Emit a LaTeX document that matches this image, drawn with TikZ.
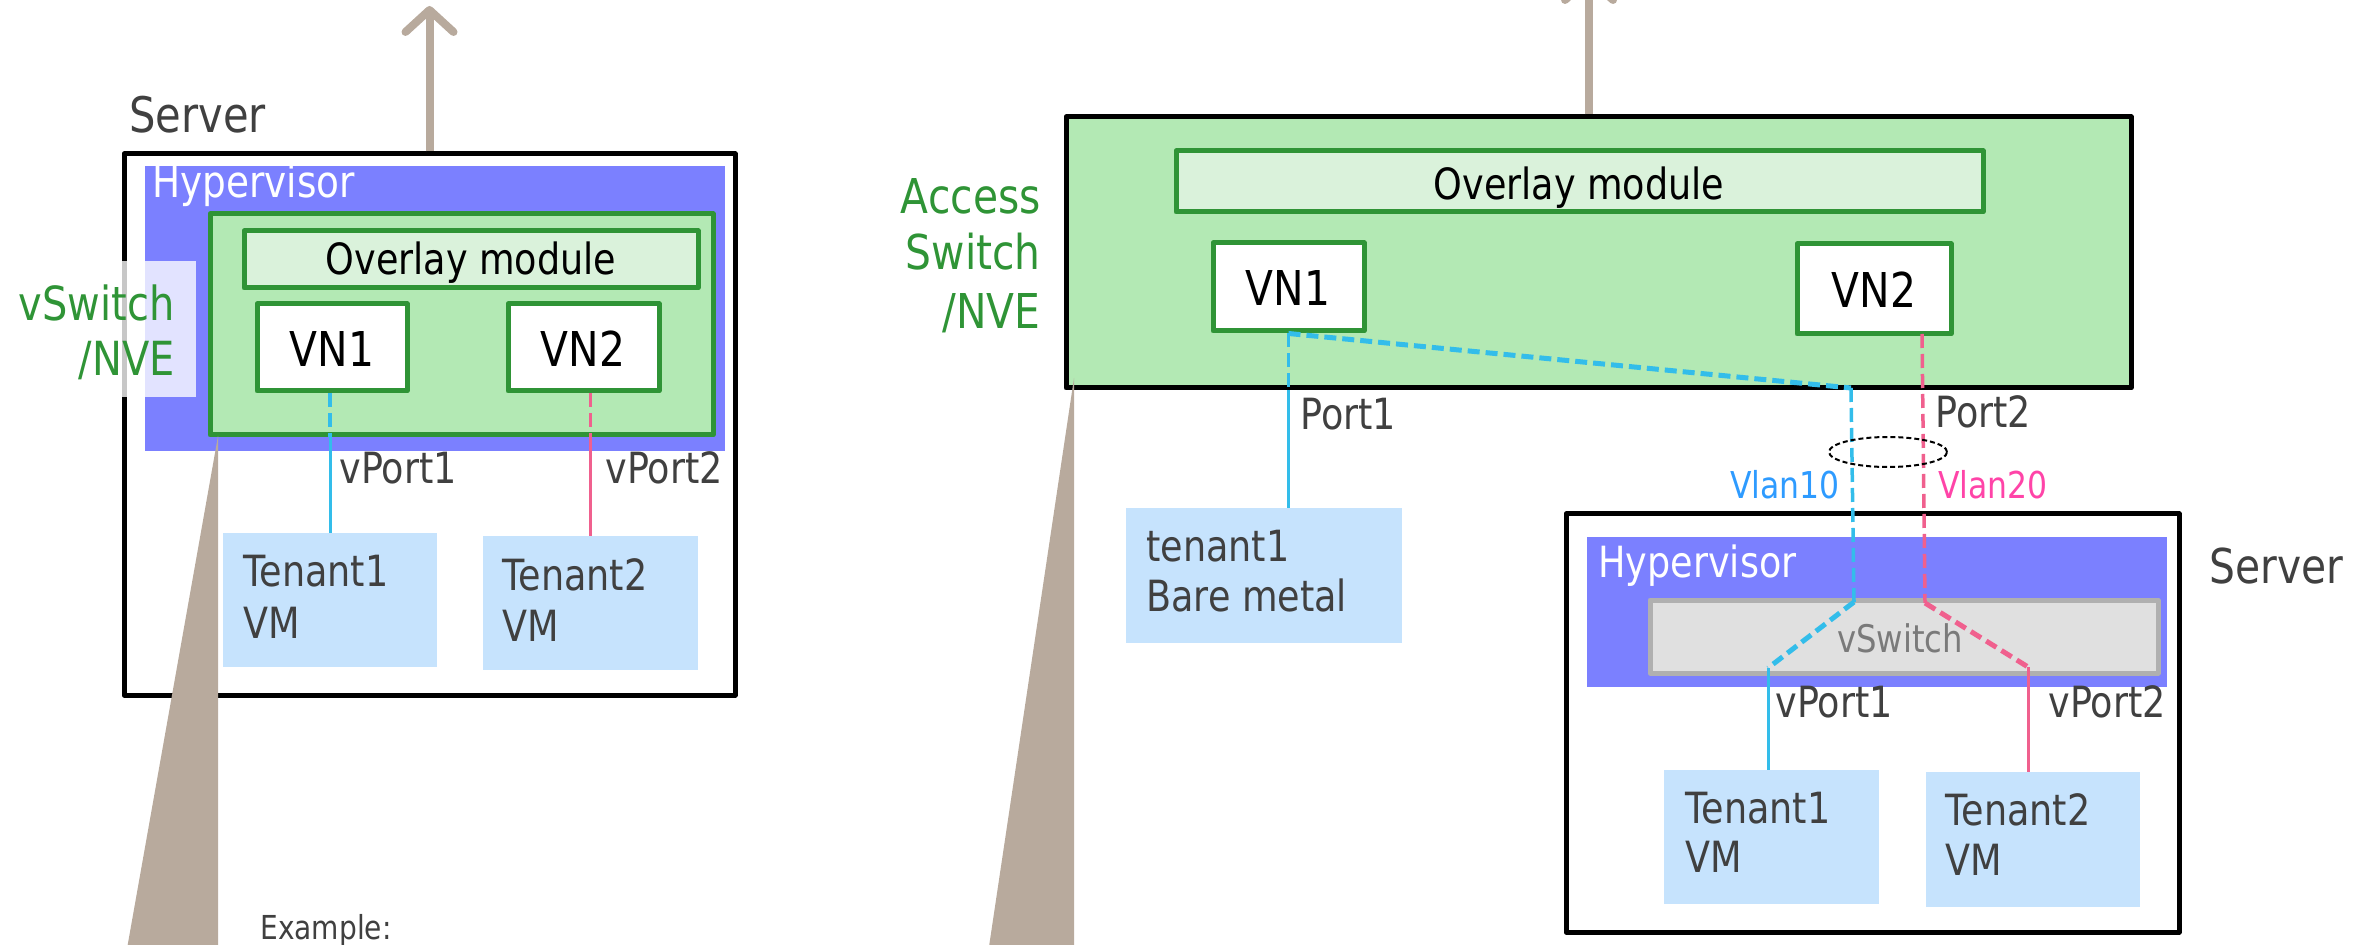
\documentclass[tikz,border=0pt]{standalone}
\usepackage{fontspec}
\setmainfont[FakeStretch=0.85]{DejaVu Sans}
\usetikzlibrary{arrows.meta,fit}
\definecolor{hyper}{HTML}{7B80FF}
\definecolor{nvefill}{HTML}{B3E9B4}
\definecolor{gborder}{HTML}{2F9436}
\definecolor{ovfill}{HTML}{DAF2DB}
\definecolor{tenant}{HTML}{C6E3FD}
\definecolor{calloutc}{HTML}{B8AA9D}
\definecolor{lblue}{HTML}{33BDEA}
\definecolor{lpink}{HTML}{F0608E}
\definecolor{vblue}{HTML}{2E9BFF}
\definecolor{vpink}{HTML}{FF44A8}
\definecolor{tgray}{HTML}{404040}
\definecolor{gtext}{HTML}{2F9436}
\definecolor{vsfill}{HTML}{E0E0E0}
\definecolor{vsdraw}{HTML}{B0B0B0}
\definecolor{vstext}{HTML}{7A7A7A}
\newcommand\myfs[1]{\fontsize{#1}{#1}\selectfont}
\begin{document}
\begin{tikzpicture}[x=0.5pt,y=-0.5pt,
  tx/.style={inner sep=0pt, text=tgray, anchor=base west, font=\myfs{21.5}},
  bigtx/.style={inner sep=0pt, text=black, anchor=base, font=\myfs{24}},
  gtx/.style={inner sep=0pt, text=gtext, anchor=base east, font=\myfs{23.5}},
  blk/.style={draw=black, line width=2.5pt, inner sep=0pt, line join=round},
  gbox/.style={draw=gborder, line width=2.5pt, inner sep=0pt, line join=round},
  tbox/.style={fill=tenant, inner sep=0pt},
  hbox/.style={fill=hyper, inner sep=0pt},
  upar/.style={draw=calloutc, line width=4pt, -{Straight Barb[length=11pt,width=24pt,line cap=round,line join=round]}},
  bdash/.style={draw=lblue, line width=1.75pt, dash pattern=on 7pt off 3pt},
  bthick/.style={draw=lblue, line width=2.5pt, dash pattern=on 6pt off 3pt},
  bsolid/.style={draw=lblue, line width=1.5pt},
  pdash/.style={draw=lpink, line width=1.75pt, dash pattern=on 7pt off 3pt},
  pthick/.style={draw=lpink, line width=2.5pt, dash pattern=on 6pt off 3pt},
  psolid/.style={draw=lpink, line width=1.5pt}
]
\useasboundingbox (0,0) rectangle (2369,945);

% ================= LEFT: server with vSwitch/NVE =================
\node[blk, fit={(124,154)(735,695)}] (srvL) {};
\coordinate (upL) at (429.5,6);
\draw[upar] (srvL.north) -- (upL);
\node[tx, font=\myfs{24.5}] (srvLt) at (129,133) {Server};
\node[hbox, fit={(145,166)(725,451)}] (hypL) {};
\node[fill=white, fill opacity=0.78, inner sep=0pt, fit={(120,261)(196,397)}] (vsbgL) {};
\node[tx, text=white, font=\myfs{22}] (hypLt) at (152,198) {Hypervisor};
\node[gtx] (vswLt) at (175,321) {vSwitch};
\node[gtx] (nveLt) at (175,376) {/NVE};
\node[gbox, fill=nvefill, fit={(210,214)(713,435)}] (nveL) {};
\node[gbox, fill=ovfill, fit={(244,231)(698,288)}] (ovL) {};
\node[bigtx, font=\myfs{21.5}] (ovLt) at (471,275) {Overlay module};
\node[gbox, fill=white, fit={(257,304)(407,391)}] (vn1L) {};
\node[bigtx] (vn1Lt) at (332,367) {VN1};
\node[gbox, fill=white, fit={(508,304)(659,391)}] (vn2L) {};
\node[bigtx] (vn2Lt) at (583,367) {VN2};
\node[tbox, fit={(223,533)(437,667)}] (t1L) {};
\node[tbox, fit={(483,536)(698,670)}] (t2L) {};
\node[tx] (t1La) at (243,587) {Tenant1};
\node[tx] (t1Lb) at (243,638) {VM};
\node[tx] (t2La) at (502,590) {Tenant2};
\node[tx] (t2Lb) at (502,641) {VM};
\draw[bdash] (t1L.north |- vn1L.south) -- (t1L.north |- nveL.south);
\draw[bsolid] (t1L.north |- nveL.south) -- (t1L.north);
\draw[pdash] (t2L.north |- vn2L.south) -- (t2L.north |- nveL.south);
\draw[psolid] (t2L.north |- nveL.south) -- (t2L.north);
\node[tx] (vp1L) at (339,484) {vPort1};
\node[tx] (vp2L) at (605,484) {vPort2};

% ================= RIGHT: access switch =================
\node[blk, fill=nvefill, fit={(1066,117)(2131,388)}] (acc) {};
\coordinate (upR) at (1589,-26);
\draw[upar] (upR |- acc.north) -- (upR);
\node[gtx, font=\myfs{24}] (accA) at (1041,214) {Access};
\node[gtx, font=\myfs{24}] (accB) at (1041,270) {Switch};
\node[gtx, font=\myfs{24}] (accC) at (1041,329) {/NVE};
\node[gbox, fill=ovfill, fit={(1176,151)(1983,212)}] (ovR) {};
\node[bigtx, font=\myfs{21.5}] (ovRt) at (1579,200) {Overlay module};
\node[gbox, fill=white, fit={(1213,243)(1364,331)}] (vn1R) {};
\node[bigtx] (vn1Rt) at (1288,306) {VN1};
\node[gbox, fill=white, fit={(1797,244)(1951,334)}] (vn2R) {};
\node[bigtx] (vn2Rt) at (1874,308) {VN2};

\node[tbox, fit={(1126,508)(1402,643)}] (bmR) {};
\node[tx] (bmRa) at (1146,561) {tenant1};
\node[tx] (bmRb) at (1146,611) {Bare metal};

\node[blk, fit={(1566,514)(2179,932)}] (srvR) {};
\node[tx, font=\myfs{24}] (srvRt) at (2209,583) {Server};
\node[hbox, fit={(1587,537)(2167,687)}] (hypR) {};
\node[tx, text=white] (hypRt) at (1598,578) {Hypervisor};
\node[fill=vsfill, draw=vsdraw, line width=2.5pt, inner sep=0pt, line join=round, fit={(1650,600)(2158,673)}] (vsR) {};
\node[inner sep=0pt, anchor=base, text=vstext, font=\myfs{19}] (vsRt) at (1900,652) {vSwitch};
\node[tbox, fit={(1664,770)(1879,904)}] (t1R) {};
\node[tbox, fit={(1926,772)(2140,907)}] (t2R) {};
\node[tx] (t1Ra) at (1685,823) {Tenant1};
\node[tx] (t1Rb) at (1685,872) {VM};
\node[tx] (t2Ra) at (1945,825) {Tenant2};
\node[tx] (t2Rb) at (1945,875) {VM};

% connectors (right)
\coordinate (bA) at (1851,388);
\coordinate (bB) at (1854,602);
\coordinate (bC) at (1768,668);
\coordinate (pA) at (1922,334);
\coordinate (pB) at (1925,603);
\coordinate (pC) at (2028,667);
\draw[bdash] (vn1R.south) -- (vn1R.south |- acc.south);
\draw[bsolid] (vn1R.south |- acc.south) -- (vn1R.south |- bmR.north);
\draw[bthick] (vn1R.south) -- (bA);
\draw[bdash] (bA) -- (bB);
\draw[bthick] (bB) -- (bC);
\draw[bsolid] (bC) -- (bC |- t1R.north);
\draw[pdash] (pA) -- (pB);
\draw[pthick] (pB) -- (pC);
\draw[psolid] (pC) -- (pC |- t2R.north);
\draw[black, line width=1pt, dash pattern=on 2.5pt off 1.5pt] (1888,452) ellipse [x radius=29.5pt, y radius=7.5pt];

\node[tx] (port1) at (1300,430) {Port1};
\node[tx] (port2) at (1935,428) {Port2};
\node[tx, anchor=base east, text=vblue, font=\myfs{18.5}] (vlan10) at (1840,499) {Vlan10};
\node[tx, text=vpink, font=\myfs{18.5}] (vlan20) at (1938,499) {Vlan20};
\node[tx] (vp1R) at (1775,717) {vPort1};
\node[tx] (vp2R) at (2048,717) {vPort2};

% callouts
\fill[calloutc] (218,436) -- (218,960) -- (125,960) -- cycle;
\fill[calloutc] (1074,378) -- (1074,960) -- (987,960) -- cycle;

\node[tx, font=\myfs{16.5}] (example) at (260,939) {Example:};
\end{tikzpicture}
\end{document}
